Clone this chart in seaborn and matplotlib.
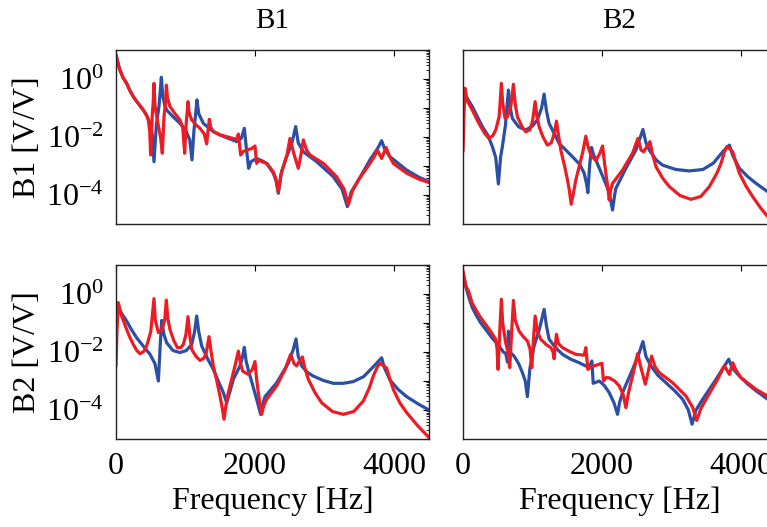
"""
Frequency response functions B1/B2 - 2x2 grid (blue vs red model)
Output: out.png
"""

import numpy as np
import pandas as pd
import matplotlib
matplotlib.use("Agg")
import matplotlib.pyplot as plt
import seaborn as sns
from matplotlib.ticker import LogLocator, NullLocator, FixedLocator, FixedFormatter


# ---------------------------
# data: frequency [Hz] and log10 of magnitude [V/V]
# row = response channel, col = excitation channel
# ---------------------------

# row B1, column B1
f_11_blue = [0, 50, 100, 153, 200, 249, 300, 393, 450, 489, 520, 546, 580, 620, 652, 670,
             700, 728, 820, 920, 1000, 1060, 1093, 1120, 1145, 1164, 1190, 1256, 1380, 1495,
             1620, 1735, 1800, 1845, 1870, 1907, 1940, 2022, 2100, 2166, 2262, 2300, 2334,
             2380, 2453, 2530, 2583, 2620, 2693, 2885, 3124, 3250, 3326, 3380, 3460, 3651,
             3760, 3819, 3860, 3939, 4179, 4350, 4500]
e_11_blue = [0.83, 0.35, 0.05, -0.15, -0.40, -0.61, -0.78, -1.07, -1.30, -1.53, -1.90, -2.85,
             -1.60, -0.90, 0.06, -0.55, -0.90, -1.07, -1.30, -1.53, -1.75, -2.10, -2.79, -1.80,
             -1.20, -0.72, -1.20, -1.53, -1.78, -1.93, -2.05, -2.16, -2.05, -1.70, -2.30, -3.08,
             -2.85, -2.74, -2.82, -2.91, -3.25, -3.50, -3.94, -3.20, -2.68, -2.20, -1.64, -2.20,
             -2.51, -2.85, -3.37, -3.80, -4.40, -3.90, -3.60, -2.79, -2.40, -2.13, -2.40, -2.68,
             -3.14, -3.38, -3.54]

f_11_red = [0, 50, 100, 153, 200, 249, 300, 393, 440, 465, 485, 498, 520, 535, 546, 560, 600,
            640, 666, 690, 712, 724, 740, 776, 850, 920, 960, 987, 1010, 1025, 1035, 1050,
            1088, 1150, 1208, 1270, 1303, 1325, 1342, 1360, 1399, 1500, 1591, 1735, 1759,
            1792, 1830, 1879, 1950, 1998, 2022, 2045, 2070, 2166, 2262, 2300, 2334, 2370,
            2406, 2460, 2501, 2560, 2621, 2660, 2693, 2740, 2789, 2981, 3172, 3280, 3340,
            3400, 3484, 3651, 3720, 3757, 3819, 3882, 3930, 3987, 4179, 4350, 4500]
e_11_red = [0.83, 0.35, 0.05, -0.15, -0.40, -0.61, -0.78, -1.07, -1.25, -1.41, -1.80, -2.62,
            -1.30, -0.80, -0.15, -0.90, -1.50, -2.00, -2.56, -1.30, -0.80, -0.21, -0.65, -0.95,
            -1.20, -1.41, -1.70, -2.56, -1.50, -1.10, -0.78, -1.15, -1.41, -1.58, -1.70, -1.90,
            -2.24, -1.75, -1.39, -1.65, -1.82, -1.93, -1.99, -2.08, -1.90, -2.62, -2.50, -2.45,
            -2.40, -2.31, -2.91, -2.80, -2.82, -2.91, -3.20, -3.45, -3.89, -3.30, -3.02, -2.60,
            -2.05, -2.60, -3.08, -2.60, -2.10, -2.45, -2.62, -2.91, -3.37, -3.80, -4.34, -3.85,
            -3.48, -2.91, -2.65, -2.45, -2.74, -2.36, -2.65, -2.91, -3.25, -3.45, -3.57]

# row B1, column B2
f_12_blue = [0, 62, 134, 278, 360, 422, 470, 509, 540, 566, 610, 653, 680, 710, 800, 902,
             1000, 1070, 1130, 1166, 1200, 1238, 1382, 1574, 1680, 1742, 1775, 1795, 1820,
             1848, 1875, 1910, 2030, 2100, 2150, 2180, 2198, 2342, 2486, 2550, 2587, 2630,
             2678, 2780, 2870, 3060, 3254, 3450, 3600, 3734, 3830, 3880, 3974, 4100, 4214,
             4382, 4500]
e_12_blue = [-0.35, -0.67, -0.95, -1.64, -1.95, -2.33, -2.70, -3.62, -2.70, -2.33, -1.60,
             -0.38, -1.00, -1.36, -1.65, -1.76, -1.62, -1.41, -1.00, -0.52, -1.10, -1.53,
             -2.22, -2.68, -2.95, -3.25, -3.60, -3.92, -3.00, -2.36, -2.60, -2.79, -3.48,
             -3.90, -4.52, -4.00, -3.77, -3.08, -2.45, -2.00, -1.74, -2.20, -2.45, -2.80,
             -2.97, -3.12, -3.17, -3.12, -2.90, -2.51, -2.28, -2.65, -3.08, -3.38, -3.60,
             -3.89, -3.97]

f_12_red = [0, 15, 29, 60, 134, 200, 254, 320, 374, 430, 470, 520, 552, 570, 605, 640, 690,
            725, 750, 782, 850, 902, 960, 1000, 1037, 1060, 1094, 1150, 1214, 1270, 1310,
            1344, 1370, 1406, 1460, 1502, 1530, 1555, 1590, 1622, 1718, 1766, 1800, 1838,
            1910, 1968, 2006, 2030, 2054, 2080, 2102, 2125, 2150, 2294, 2438, 2515, 2560,
            2597, 2650, 2688, 2720, 2774, 2870, 2966, 3120, 3278, 3420, 3542, 3650, 3710,
            3760, 3792, 3840, 3878, 3920, 3974, 4070, 4166, 4280, 4382, 4500]
e_12_red = [-2.50, -1.20, -0.32, -0.75, -1.07, -1.40, -1.64, -1.90, -2.05, -1.95, -1.76,
            -1.30, -0.15, -0.80, -1.36, -1.30, -0.90, -0.18, -0.85, -1.30, -1.65, -1.82,
            -1.75, -1.45, -0.78, -1.25, -1.64, -2.00, -2.28, -2.20, -1.90, -1.45, -1.90,
            -2.45, -3.00, -3.48, -3.85, -4.32, -3.90, -3.48, -2.56, -1.97, -2.35, -2.62,
            -2.82, -2.56, -2.31, -2.80, -3.25, -3.70, -4.17, -3.80, -3.60, -3.14, -2.56,
            -2.05, -2.45, -2.51, -2.30, -2.16, -2.55, -3.02, -3.42, -3.71, -4.02, -4.15,
            -4.05, -3.71, -3.25, -2.91, -2.50, -2.33, -2.42, -2.51, -2.85, -3.25, -3.70,
            -4.06, -4.45, -4.75, -4.98]

# row B2, column B1
f_21_blue = [0, 60, 153, 220, 297, 400, 489, 560, 609, 635, 657, 690, 728, 820, 920, 1010,
             1088, 1130, 1160, 1190, 1232, 1310, 1399, 1470, 1543, 1591, 1640, 1687, 1783,
             1820, 1845, 1870, 1902, 1960, 2022, 2080, 2110, 2142, 2310, 2477, 2550, 2588,
             2620, 2669, 2750, 2837, 2980, 3124, 3270, 3412, 3560, 3699, 3780, 3819, 3860,
             3939, 4060, 4179, 4350, 4500]
e_21_blue = [-0.28, -0.60, -0.93, -1.22, -1.51, -1.82, -2.08, -2.40, -3.00, -1.80, -0.91,
             -1.40, -1.68, -1.95, -2.02, -1.95, -1.74, -1.30, -0.76, -1.30, -1.79, -2.20,
             -2.60, -3.00, -3.40, -3.75, -3.35, -2.94, -2.48, -2.15, -1.84, -2.30, -2.62,
             -3.10, -3.63, -4.15, -3.80, -3.54, -3.06, -2.39, -1.90, -1.55, -2.15, -2.48,
             -2.70, -2.83, -2.98, -3.08, -3.08, -3.02, -2.85, -2.51, -2.30, -2.20, -2.55,
             -2.97, -3.30, -3.54, -3.80, -4.00]

f_21_red = [0, 15, 34, 80, 153, 200, 249, 300, 345, 400, 441, 500, 546, 565, 609, 661, 700,
            724, 745, 776, 830, 882, 930, 968, 1005, 1035, 1060, 1088, 1150, 1208, 1260,
            1294, 1337, 1365, 1399, 1450, 1495, 1525, 1553, 1580, 1615, 1711, 1759, 1790,
            1821, 1902, 1960, 1998, 2020, 2046, 2070, 2094, 2125, 2166, 2310, 2430, 2511,
            2560, 2597, 2640, 2679, 2715, 2765, 2860, 2957, 3110, 3268, 3420, 3556, 3640,
            3699, 3760, 3795, 3850, 3891, 3940, 3987, 4080, 4179, 4340, 4500]
e_21_red = [-2.49, -1.20, -0.30, -0.75, -1.22, -1.50, -1.74, -1.95, -2.06, -1.98, -1.79,
            -1.30, -0.16, -0.90, -1.33, -1.22, -0.90, -0.21, -0.85, -1.22, -1.60, -1.85,
            -1.85, -1.74, -1.40, -0.78, -1.40, -1.91, -2.15, -2.29, -2.22, -2.08, -1.47,
            -1.95, -2.48, -3.00, -3.52, -3.90, -4.32, -3.85, -3.40, -2.48, -1.97, -2.40,
            -2.66, -2.77, -2.60, -2.33, -2.90, -3.40, -3.80, -4.15, -3.85, -3.63, -3.17,
            -2.60, -2.08, -2.40, -2.48, -2.30, -2.17, -2.55, -2.94, -3.40, -3.75, -4.05,
            -4.15, -4.05, -3.69, -3.25, -2.83, -2.50, -2.39, -2.48, -2.56, -2.95, -3.29,
            -3.75, -4.09, -4.55, -4.95]

# row B2, column B2
f_22_blue = [0, 40, 86, 130, 182, 250, 326, 420, 518, 580, 614, 640, 653, 672, 734, 800,
             854, 895, 926, 960, 1022, 1100, 1166, 1200, 1238, 1330, 1430, 1550, 1670, 1814,
             1853, 1872, 1958, 2030, 2102, 2170, 2222, 2250, 2294, 2438, 2530, 2587, 2630,
             2702, 2800, 2918, 3040, 3158, 3240, 3293, 3350, 3446, 3638, 3740, 3821, 3870,
             3974, 4100, 4214, 4382, 4500]
e_22_blue = [0.74, 0.25, -0.13, -0.45, -0.70, -0.98, -1.22, -1.52, -1.79, -2.00, -2.05,
             -2.35, -1.28, -2.00, -2.14, -2.40, -2.71, -3.00, -3.54, -2.60, -1.79, -1.20,
             -0.53, -1.10, -1.56, -1.85, -2.08, -2.25, -2.37, -2.54, -2.31, -3.08, -3.00,
             -3.15, -3.40, -3.75, -4.15, -3.75, -3.40, -2.60, -2.05, -1.64, -2.15, -2.48,
             -2.80, -3.06, -3.33, -3.63, -4.00, -4.49, -4.00, -3.63, -2.94, -2.55, -2.25,
             -2.55, -2.83, -3.12, -3.34, -3.63, -3.75]

f_22_red = [0, 40, 86, 130, 182, 250, 326, 400, 470, 490, 504, 530, 552, 570, 614, 645, 672,
            700, 725, 750, 806, 870, 926, 965, 989, 1015, 1037, 1070, 1118, 1200, 1262, 1295,
            1310, 1330, 1344, 1370, 1430, 1530, 1622, 1742, 1766, 1795, 1850, 1910, 1997,
            2021, 2060, 2102, 2180, 2246, 2300, 2342, 2380, 2414, 2470, 2510, 2565, 2621,
            2670, 2712, 2760, 2822, 3014, 3206, 3300, 3360, 3420, 3494, 3662, 3720, 3758,
            3830, 3878, 3930, 3998, 4214, 4382, 4500]
e_22_red = [0.79, 0.30, 0.05, -0.30, -0.53, -0.80, -1.05, -1.30, -1.56, -1.90, -2.60, -1.20,
            -0.18, -1.00, -1.68, -2.00, -2.54, -1.30, -0.22, -0.90, -1.28, -1.48, -1.62,
            -1.90, -2.54, -1.50, -0.76, -1.30, -1.56, -1.75, -1.85, -2.00, -2.23, -1.70,
            -1.39, -1.70, -1.85, -1.98, -2.08, -2.11, -1.85, -2.60, -2.50, -2.46, -2.39,
            -3.00, -2.88, -2.89, -3.00, -3.17, -3.45, -3.92, -3.40, -3.06, -2.50, -2.06,
            -2.60, -3.11, -2.60, -2.14, -2.50, -2.71, -3.06, -3.52, -3.90, -4.36, -3.95,
            -3.63, -2.94, -2.65, -2.48, -2.77, -2.37, -2.65, -2.89, -3.29, -3.52, -3.62]

col_titles = ["B1", "B2"]
row_labels = ["B1 [V/V]", "B2 [V/V]"]
x_ticks = [0, 2000, 4000]

BLUE = "#2a4fa5"
RED = "#ec1c24"


def frame(f_blue, e_blue, f_red, e_red):
    blue = pd.DataFrame({"freq": f_blue, "mag": 10.0 ** np.array(e_blue), "model": "blue"})
    red = pd.DataFrame({"freq": f_red, "mag": 10.0 ** np.array(e_red), "model": "red"})
    return pd.concat([blue, red], ignore_index=True)


panels = {
    (0, 0): frame(f_11_blue, e_11_blue, f_11_red, e_11_red),
    (0, 1): frame(f_12_blue, e_12_blue, f_12_red, e_12_red),
    (1, 0): frame(f_21_blue, e_21_blue, f_21_red, e_21_red),
    (1, 1): frame(f_22_blue, e_22_blue, f_22_red, e_22_red),
}


def main():
    sns.set_style("white")
    plt.rcParams["font.family"] = ["Liberation Serif", "DejaVu Serif"]
    plt.rcParams["mathtext.fontset"] = "custom"
    plt.rcParams["mathtext.rm"] = "Liberation Serif"
    plt.rcParams["mathtext.it"] = "Liberation Serif:italic"
    plt.rcParams["mathtext.bf"] = "Liberation Serif:bold"
    plt.rcParams["text.color"] = "black"
    plt.rcParams["axes.labelcolor"] = "black"
    plt.rcParams["xtick.color"] = "black"
    plt.rcParams["ytick.color"] = "black"

    W, H = 767, 527
    fig = plt.figure(figsize=(W / 100, H / 100), dpi=100)

    # axes boxes in pixels (left, top, width, height); right column runs off the canvas
    lefts = [116, 463]
    tops = [50, 265]
    aw, ah = 313, 174

    decades = [10.0 ** k for k in range(-5, 2)]
    dec_labels = ["", r"$10^{-4}$", "", r"$10^{-2}$", "", r"$10^{0}$", ""]

    for (r, c), df in panels.items():
        ax = fig.add_axes([lefts[c] / W, 1 - (tops[r] + ah) / H, aw / W, ah / H])

        sns.lineplot(data=df, x="freq", y="mag", hue="model",
                     palette={"blue": BLUE, "red": RED}, estimator=None,
                     sort=False, linewidth=2.3, legend=False, ax=ax)

        ax.set_yscale("log")
        ax.set_xlim(0, 4500)
        ax.set_ylim(1e-5, 1e1)

        ax.xaxis.set_major_locator(FixedLocator(x_ticks))
        ax.yaxis.set_major_locator(FixedLocator(decades))
        if c == 0:
            ax.yaxis.set_major_formatter(FixedFormatter(dec_labels))
            ax.yaxis.set_minor_locator(LogLocator(base=10, subs=np.arange(2, 10), numticks=20))
            ax.set_ylabel(row_labels[r], fontsize=23, labelpad=3)
        else:
            ax.set_yticklabels([])
            ax.yaxis.set_minor_locator(NullLocator())
            ax.set_ylabel("")

        if r == 1:
            ax.set_xticklabels([str(t) for t in x_ticks])
            ax.set_xlabel("Frequency [Hz]", fontsize=23, labelpad=4)
        else:
            ax.set_xticklabels([])
            ax.set_xlabel("")
            ax.set_title(col_titles[c], fontsize=21, pad=16)

        ax.tick_params(which="both", direction="in", top=True, right=True,
                       labelsize=23, color="black")
        ax.tick_params(axis="x", which="major", length=4, width=0.8, pad=9)
        ax.tick_params(axis="y", which="major", length=4, width=0.8, pad=9)
        ax.tick_params(axis="y", which="minor", length=2, width=0.6)

        for sp in ax.spines.values():
            sp.set_color("#222222")
            sp.set_linewidth(1.0)

    fig.savefig("out.png", dpi=100)
    plt.close(fig)


if __name__ == "__main__":
    main()
